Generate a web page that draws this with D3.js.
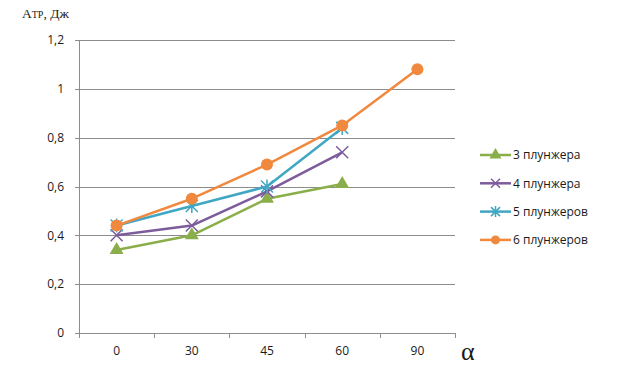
<!DOCTYPE html>
<html>
<head>
<meta charset="utf-8">
<script src="https://cdn.jsdelivr.net/npm/d3@7"></script>
<style>
  body { margin: 0; background: #fff; }
  text { font-family: "Open Sans", "Noto Sans", sans-serif; fill: #1a1a1a; }
</style>
</head>
<body>
<div id="chart"></div>
<script>
// --------------------------------------
//  Data
// --------------------------------------
const angles = ["0", "30", "45", "60", "90"];
const yTicks = [0, 0.2, 0.4, 0.6, 0.8, 1, 1.2];
const seriesNames = ["3 плунжера", "4 плунжера", "5 плунжеров", "6 плунжеров"];
const plunger3 = [0.34, 0.40, 0.55, 0.61];
const plunger4 = [0.40, 0.44, 0.58, 0.74];
const plunger5 = [0.44, 0.52, 0.60, 0.84];
const plunger6 = [0.44, 0.55, 0.69, 0.85, 1.08];
const colors = ["#8AAE4A", "#7D5C9C", "#3FA7C3", "#F0893E"];
const markers = ["triangle", "cross", "star", "circle"];

const width = 629, height = 376;
const margin = { left: 79, right: 174, top: 40, bottom: 43 };
const innerwidth = width - margin.left - margin.right;
const innerheight = height - margin.top - margin.bottom;

// --------------------------------------
//  Canvas
// --------------------------------------
const svg = d3.select("#chart")
  .append("svg")
    .attr("width", width)
    .attr("height", height);

const inner = svg.append("g")
    .attr("transform", `translate(${margin.left}, ${margin.top})`);

// --------------------------------------
//  Scales
// --------------------------------------
const x = d3.scaleBand()
  .domain(angles)
  .range([0, innerwidth]);

const y = d3.scaleLinear()
  .domain([0, 1.2])
  .range([innerheight, 0]);

const fmt = d => d3.format("~g")(d).replace(".", ",");

// --------------------------------------
//  Grid and axes
// --------------------------------------
inner.append("g")
  .selectAll("line")
  .data(yTicks)
  .join("line")
    .attr("x1", -4)
    .attr("x2", innerwidth)
    .attr("y1", d => Math.round(y(d)) + 0.5)
    .attr("y2", d => Math.round(y(d)) + 0.5)
    .attr("stroke", "#8c8c8c")
    .attr("stroke-width", 1);

inner.append("line")
  .attr("x1", 0.5).attr("x2", 0.5)
  .attr("y1", 0).attr("y2", innerheight)
  .attr("stroke", "#8c8c8c");

inner.append("g")
  .selectAll("text")
  .data(yTicks)
  .join("text")
    .attr("x", -15)
    .attr("y", d => y(d))
    .attr("dy", "0.35em")
    .attr("text-anchor", "end")
    .style("font-size", "12px")
    .text(fmt);

// x tick marks at band edges
const edges = angles.map(a => x(a)).concat([innerwidth]);
inner.append("g")
  .selectAll("line")
  .data(edges)
  .join("line")
    .attr("x1", d => Math.round(d) + 0.5)
    .attr("x2", d => Math.round(d) + 0.5)
    .attr("y1", innerheight)
    .attr("y2", innerheight + 5)
    .attr("stroke", "#8c8c8c");

inner.append("g")
  .selectAll("text")
  .data(angles)
  .join("text")
    .attr("x", d => x(d) + x.bandwidth() / 2)
    .attr("y", innerheight + 22)
    .attr("text-anchor", "middle")
    .style("font-size", "12px")
    .text(d => d);

// axis titles
const yTitle = svg.append("text")
    .attr("x", 22)
    .attr("y", 18)
    .style("font-family", "'Liberation Serif', serif")
    .style("font-size", "13.5px");
yTitle.append("tspan").text("А");
yTitle.append("tspan").style("font-size", "10px").text("ТР");
yTitle.append("tspan").text(", Дж");

svg.append("text")
    .attr("x", 461)
    .attr("y", 360)
    .style("font-family", "'Liberation Serif', serif")
    .style("font-size", "26px")
    .text("α");

// --------------------------------------
//  Lines and markers
// --------------------------------------
const allSeries = [plunger3, plunger4, plunger5, plunger6];

const line = d3.line()
  .x((d, i) => x(angles[i]) + x.bandwidth() / 2)
  .y(d => y(d));

function drawMarker(g, type, color, size) {
  if (type === "triangle") {
    g.append("path")
      .attr("d", d3.symbol(d3.symbolTriangle, size * 7)())
      .attr("fill", color);
  } else if (type === "circle") {
    g.append("circle").attr("r", size / 2).attr("fill", color);
  } else {
    const h = size / 2;
    g.append("path")
      .attr("d", `M${-h},${-h}L${h},${h}M${-h},${h}L${h},${-h}` +
        (type === "star" ? `M0,${-h - 1}L0,${h + 1}` : ""))
      .attr("stroke", color)
      .attr("stroke-width", 1.5)
      .attr("fill", "none");
  }
}

allSeries.forEach((data, s) => {
  inner.append("path")
    .datum(data)
    .attr("fill", "none")
    .attr("stroke", colors[s])
    .attr("stroke-width", 2.5)
    .attr("stroke-linejoin", "round")
    .attr("d", line);

  data.forEach((v, i) => {
    const g = inner.append("g")
      .attr("transform", `translate(${x(angles[i]) + x.bandwidth() / 2}, ${y(v)})`);
    drawMarker(g, markers[s], colors[s], 12);
  });
});

// --------------------------------------
//  Legend
// --------------------------------------
const legend = svg.append("g")
  .attr("transform", "translate(480, 155)");

seriesNames.forEach((name, s) => {
  const row = legend.append("g")
    .attr("transform", `translate(0, ${s * 28.3})`);
  row.append("line")
    .attr("x1", 0).attr("x2", 31)
    .attr("stroke", colors[s])
    .attr("stroke-width", 2.5);
  const m = row.append("g").attr("transform", "translate(15.5, 0)");
  drawMarker(m, markers[s], colors[s], 9);
  row.append("text")
    .attr("x", 33)
    .attr("dy", "0.35em")
    .style("font-size", "12px")
    .text(name);
});
</script>
</body>
</html>
